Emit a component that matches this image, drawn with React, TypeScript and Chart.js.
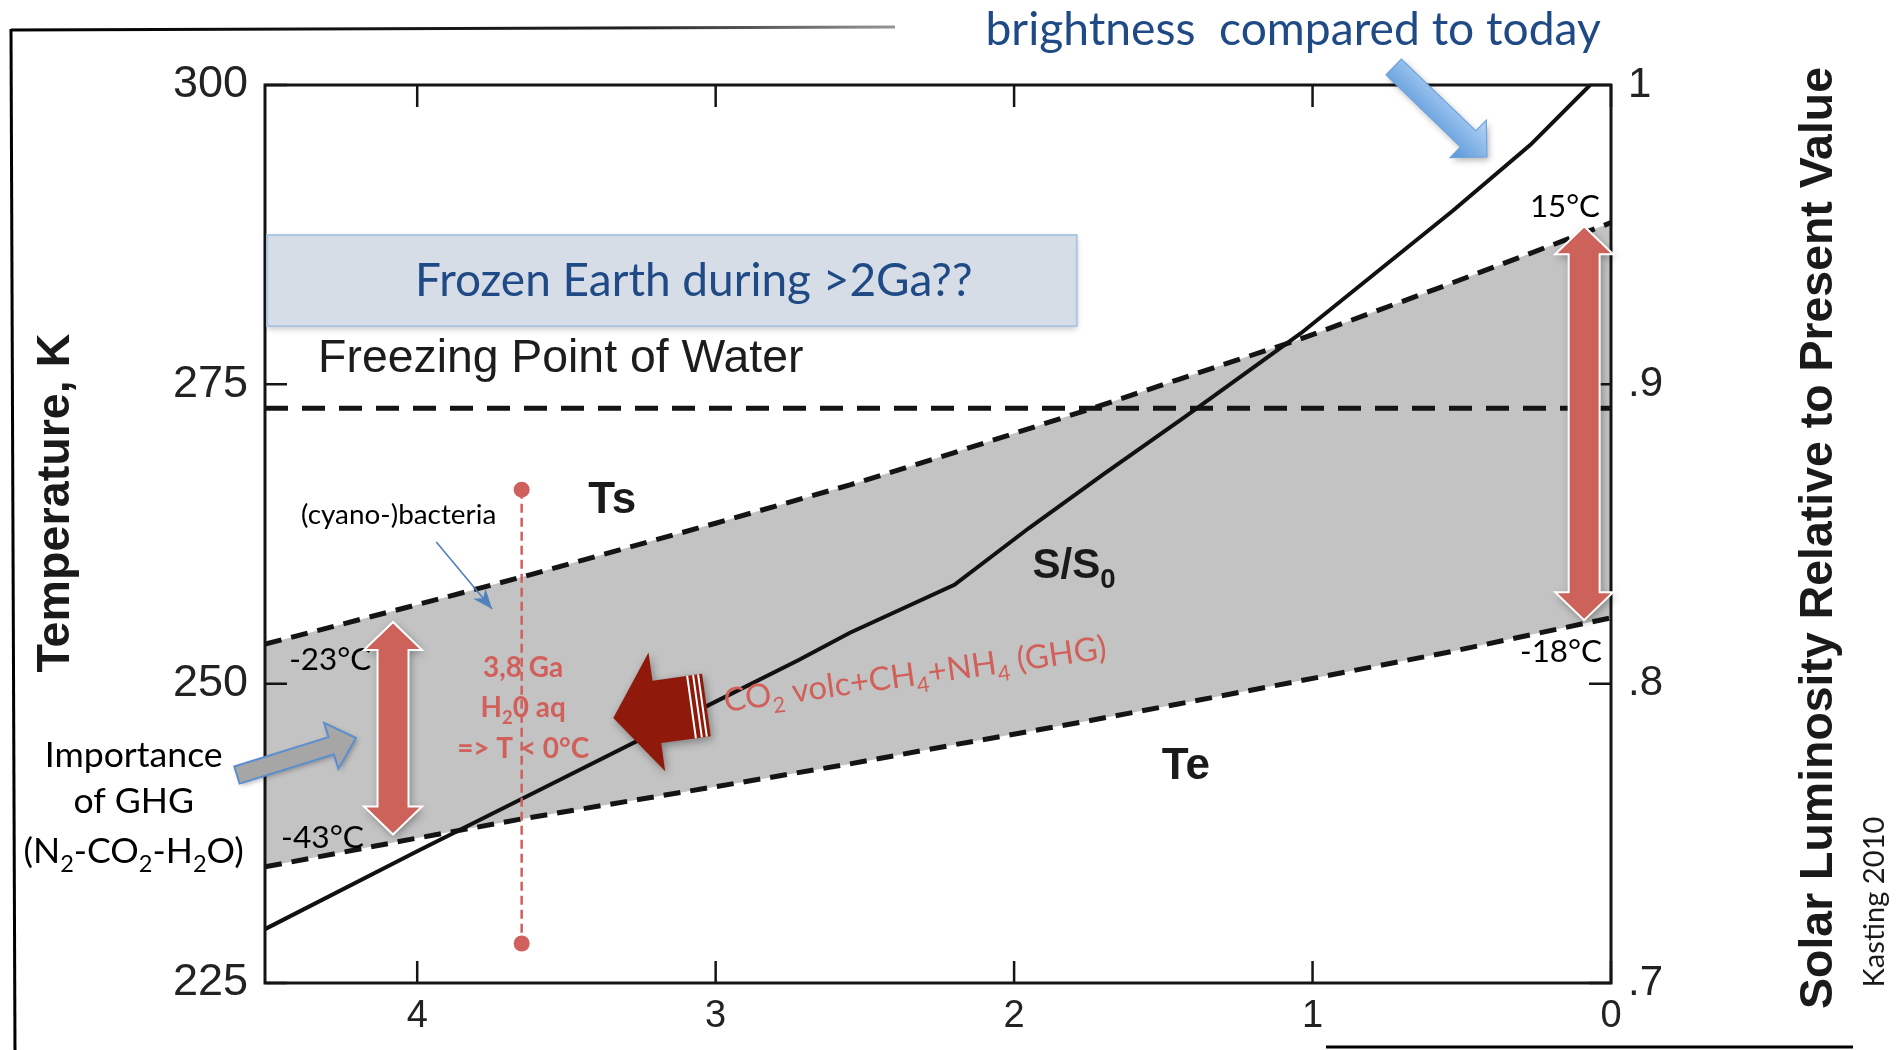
import React, { useEffect, useRef } from 'react';
import { Chart, registerables } from 'chart.js';

Chart.register(...registerables);

// ---------------- data ----------------
const xTickValues = [0, 1, 2, 3, 4];
const yTickValues = [225, 250, 275, 300];
const y2TickValues = [0.7, 0.8, 0.9, 1.0];

// Age before present (Ga) for the temperature band
const bandAgeGa = [4.51, 4.0, 3.65, 3.0, 2.55, 2.2, 1.75, 1.45, 1.05, 0.55, 0.0];
// Surface temperature Ts (K), upper dashed curve
const surfaceTempK = [253.3, 256.6, 258.9, 263.4, 266.6, 269.3, 272.9, 275.4, 278.7, 283.3, 288.5];
// Effective temperature Te (K), lower dashed curve
const effectiveTempK = [234.7, 237.1, 238.7, 241.4, 243.3, 244.9, 246.9, 248.3, 250.2, 252.6, 255.5];

// Solar luminosity S/S0 (right axis)
const solarAgeGa = [4.51, 4.0, 3.5, 3.0, 2.72, 2.55, 2.2, 1.95, 1.7, 1.43, 1.04, 0.53, 0.27, 0.07];
const solarRatio = [0.718, 0.744, 0.769, 0.794, 0.808, 0.817, 0.833, 0.852, 0.87, 0.889, 0.917, 0.958, 0.98, 1.0];

// Freezing point of water
const freezingAgeGa = [4.51, 0.0];
const freezingTempK = [273, 273];

const ageMin = 0;
const ageMax = 4.51;
const tempMin = 225;
const tempMax = 300;
const lumMin = 0.7;
const lumMax = 1.0;

// ---------------- styles ----------------
const W = 1901;
const H = 1050;
const ARIAL = '"Liberation Sans", Arial, Helvetica, sans-serif';
const GILL = 'Lato, "Noto Sans", sans-serif';
const BLUE_TEXT = '#1f4a85';
const RED_TEXT = '#d2605a';
const RED_ARROW = '#cd625b';
const DARK_RED = '#8f1a0b';
const TICK = 22;

type Seg = [string, number];

function segFont(size: number, family: string, weight: string, kind: number) {
  const s = kind ? size * 0.66 : size;
  return `${weight} ${s}px ${family}`;
}
function richWidth(ctx: CanvasRenderingContext2D, segs: Seg[], size: number, family: string, weight: string) {
  let w = 0;
  for (const [t, k] of segs) {
    ctx.font = segFont(size, family, weight, k);
    w += ctx.measureText(t).width;
  }
  return w;
}
function drawRich(
  ctx: CanvasRenderingContext2D,
  segs: Seg[],
  x: number,
  y: number,
  size: number,
  family: string,
  weight: string,
  color: string,
  align: 'left' | 'center' | 'right'
) {
  const w = richWidth(ctx, segs, size, family, weight);
  let cx = align === 'left' ? x : align === 'center' ? x - w / 2 : x - w;
  ctx.fillStyle = color;
  ctx.textBaseline = 'alphabetic';
  ctx.textAlign = 'left';
  for (const [t, k] of segs) {
    ctx.font = segFont(size, family, weight, k);
    ctx.fillText(t, cx, y + (k ? size * 0.24 : 0));
    cx += ctx.measureText(t).width;
  }
}
function fitSize(ctx: CanvasRenderingContext2D, segs: Seg[], family: string, weight: string, target: number) {
  return (100 * target) / richWidth(ctx, segs, 100, family, weight);
}

function blockArrowPath(
  ctx: CanvasRenderingContext2D,
  x1: number,
  y1: number,
  x2: number,
  y2: number,
  shaftW: number,
  headW: number,
  headL: number
) {
  const dx = x2 - x1;
  const dy = y2 - y1;
  const len = Math.hypot(dx, dy);
  const ux = dx / len;
  const uy = dy / len;
  const nx = -uy;
  const ny = ux;
  const bx = x2 - ux * headL;
  const by = y2 - uy * headL;
  ctx.beginPath();
  ctx.moveTo(x1 + (nx * shaftW) / 2, y1 + (ny * shaftW) / 2);
  ctx.lineTo(bx + (nx * shaftW) / 2, by + (ny * shaftW) / 2);
  ctx.lineTo(bx + (nx * headW) / 2, by + (ny * headW) / 2);
  ctx.lineTo(x2, y2);
  ctx.lineTo(bx - (nx * headW) / 2, by - (ny * headW) / 2);
  ctx.lineTo(bx - (nx * shaftW) / 2, by - (ny * shaftW) / 2);
  ctx.lineTo(x1 - (nx * shaftW) / 2, y1 - (ny * shaftW) / 2);
  ctx.closePath();
}

function doubleArrowPath(
  ctx: CanvasRenderingContext2D,
  x: number,
  yTop: number,
  yBot: number,
  shaftW: number,
  headW: number,
  headL: number
) {
  ctx.beginPath();
  ctx.moveTo(x, yTop);
  ctx.lineTo(x + headW / 2, yTop + headL);
  ctx.lineTo(x + shaftW / 2, yTop + headL);
  ctx.lineTo(x + shaftW / 2, yBot - headL);
  ctx.lineTo(x + headW / 2, yBot - headL);
  ctx.lineTo(x, yBot);
  ctx.lineTo(x - headW / 2, yBot - headL);
  ctx.lineTo(x - shaftW / 2, yBot - headL);
  ctx.lineTo(x - shaftW / 2, yTop + headL);
  ctx.lineTo(x - headW / 2, yTop + headL);
  ctx.closePath();
}

// ---------------- annotation placement (data units: Ga, K) ----------------
type FitLabel = { segs: Seg[]; from: number; to: number; base: number; family: string; weight: string; color: string };
const fitLabels: FitLabel[] = [
  { segs: [['brightness  compared to today', 0]], from: 2.096, to: 0.0335, base: 303.34, family: GILL, weight: '400', color: BLUE_TEXT },
  { segs: [['Freezing Point of Water', 0]], from: 4.332, to: 2.706, base: 276.03, family: ARIAL, weight: '400', color: '#1c1c1c' },
  { segs: [['15°C', 0]], from: 0.2716, to: 0.0369, base: 288.98, family: GILL, weight: '400', color: '#000' },
  { segs: [['-18°C', 0]], from: 0.305, to: 0.03, base: 251.81, family: GILL, weight: '400', color: '#000' },
  { segs: [['-23°C', 0]], from: 4.429, to: 4.154, base: 251.14, family: GILL, weight: '400', color: '#000' },
  { segs: [['-43°C', 0]], from: 4.456, to: 4.178, base: 236.28, family: GILL, weight: '400', color: '#000' },
  { segs: [['(cyano-)bacteria', 0]], from: 4.389, to: 3.735, base: 263.34, family: GILL, weight: '400', color: '#000' },
];

function drawAnnotations(chart: Chart) {
  const ctx = chart.ctx;
  const xs = chart.scales.x;
  const ys = chart.scales.y;
  const y2s = chart.scales.y2;
  const X = (v: number) => xs.getPixelForValue(v);
  const Y = (v: number) => ys.getPixelForValue(v);
  const area = chart.chartArea;
  ctx.save();

  // plot frame
  ctx.strokeStyle = '#151515';
  ctx.lineWidth = 3;
  ctx.setLineDash([]);
  ctx.strokeRect(area.left, area.top, area.right - area.left, area.bottom - area.top);

  // inward tick marks
  ctx.lineWidth = 2.5;
  ctx.beginPath();
  for (const t of xs.ticks) {
    const px = X(t.value);
    ctx.moveTo(px, area.bottom);
    ctx.lineTo(px, area.bottom - TICK);
    ctx.moveTo(px, area.top);
    ctx.lineTo(px, area.top + TICK);
  }
  for (const t of ys.ticks) {
    const py = Y(t.value);
    ctx.moveTo(area.left, py);
    ctx.lineTo(area.left + TICK, py);
  }
  for (const t of y2s.ticks) {
    const py = y2s.getPixelForValue(t.value);
    ctx.moveTo(area.right, py);
    ctx.lineTo(area.right - TICK, py);
  }
  ctx.stroke();

  // curve labels from the original figure
  drawRich(ctx, [['Ts', 0]], X(3.427), Y(264.26), 44, ARIAL, 'bold', '#1a1a1a', 'left');
  drawRich(ctx, [['Te', 0]], X(1.505), Y(242.04), 44, ARIAL, 'bold', '#1a1a1a', 'left');
  drawRich(ctx, [['S/S', 0], ['0', 1]], X(1.938), Y(258.83), 42, ARIAL, 'bold', '#1a1a1a', 'left');

  // Frozen Earth box
  {
    const x0 = X(4.503);
    const x1 = X(1.79);
    const y0 = Y(287.47);
    const y1 = Y(279.87);
    ctx.save();
    ctx.shadowColor = 'rgba(0,0,0,0.22)';
    ctx.shadowBlur = 6;
    ctx.shadowOffsetY = 3;
    ctx.fillStyle = '#d6dde7';
    ctx.fillRect(x0, y0, x1 - x0, y1 - y0);
    ctx.restore();
    ctx.strokeStyle = '#adc6e4';
    ctx.lineWidth = 2;
    ctx.strokeRect(x0, y0, x1 - x0, y1 - y0);
    const segs: Seg[] = [['Frozen Earth during >2Ga??', 0]];
    const size = fitSize(ctx, segs, GILL, '400', X(2.139) - X(4.007));
    drawRich(ctx, segs, X(4.007), Y(282.38), size, GILL, '400', BLUE_TEXT, 'left');
  }

  // fitted labels
  for (const l of fitLabels) {
    const a = X(l.from);
    const b = X(l.to);
    const size = fitSize(ctx, l.segs, l.family, l.weight, Math.abs(b - a));
    drawRich(ctx, l.segs, Math.min(a, b), Y(l.base), size, l.family, l.weight, l.color, 'left');
  }

  // blue arrow "brightness"
  {
    const x1 = X(0.728);
    const y1 = Y(301.51);
    const x2 = X(0.4158);
    const y2 = Y(293.99);
    ctx.save();
    ctx.shadowColor = 'rgba(0,0,0,0.3)';
    ctx.shadowBlur = 6;
    ctx.shadowOffsetX = 2;
    ctx.shadowOffsetY = 3;
    const g = ctx.createLinearGradient(x1 - 15, y1 + 15, x1 + 15, y1 - 15);
    g.addColorStop(0, '#5d99da');
    g.addColorStop(1, '#a9cdf3');
    ctx.fillStyle = g;
    blockArrowPath(ctx, x1, y1, x2, y2, 22, 52, 26);
    ctx.fill();
    ctx.restore();
    ctx.strokeStyle = '#6ea3dc';
    ctx.lineWidth = 1.2;
    blockArrowPath(ctx, x1, y1, x2, y2, 22, 52, 26);
    ctx.stroke();
  }

  // red dashed vertical (3,8 Ga)
  {
    const px = X(3.65);
    const yt = Y(266.2);
    const yb = Y(228.3);
    ctx.strokeStyle = '#d0605d';
    ctx.lineWidth = 2.5;
    ctx.setLineDash([9, 5]);
    ctx.beginPath();
    ctx.moveTo(px, yt);
    ctx.lineTo(px, yb);
    ctx.stroke();
    ctx.setLineDash([]);
    ctx.fillStyle = '#d0605d';
    for (const py of [yt, yb]) {
      ctx.beginPath();
      ctx.arc(px, py, 8, 0, Math.PI * 2);
      ctx.fill();
    }
    const l3: Seg[] = [['=> T < 0°C', 0]];
    const size = fitSize(ctx, l3, GILL, 'bold', 132);
    const cx = X(3.645);
    drawRich(ctx, [['3,8 Ga', 0]], cx, Y(250.56), size, GILL, 'bold', RED_TEXT, 'center');
    drawRich(ctx, [['H', 0], ['2', 1], ['0 aq', 0]], cx, Y(247.22), size, GILL, 'bold', RED_TEXT, 'center');
    drawRich(ctx, l3, cx, Y(243.79), size, GILL, 'bold', RED_TEXT, 'center');
  }

  // cyano-bacteria pointer
  {
    const x1 = X(3.936);
    const y1 = Y(261.83);
    const x2 = X(3.749);
    const y2 = Y(256.24);
    ctx.strokeStyle = '#4f81bd';
    ctx.fillStyle = '#4f81bd';
    ctx.lineWidth = 1.6;
    ctx.beginPath();
    ctx.moveTo(x1, y1);
    ctx.lineTo(x2, y2);
    ctx.stroke();
    const ang = Math.atan2(y2 - y1, x2 - x1);
    const hl = 20;
    const hw = 8;
    ctx.beginPath();
    ctx.moveTo(x2, y2);
    ctx.lineTo(x2 - hl * Math.cos(ang) + hw * Math.sin(ang), y2 - hl * Math.sin(ang) - hw * Math.cos(ang));
    ctx.lineTo(x2 - hl * 0.7 * Math.cos(ang), y2 - hl * 0.7 * Math.sin(ang));
    ctx.lineTo(x2 - hl * Math.cos(ang) - hw * Math.sin(ang), y2 - hl * Math.sin(ang) + hw * Math.cos(ang));
    ctx.closePath();
    ctx.fill();
  }

  // red double arrows
  const redDouble = (age: number, top: number, bot: number) => {
    const px = X(age);
    const yt = Y(top);
    const yb = Y(bot);
    ctx.save();
    ctx.shadowColor = 'rgba(0,0,0,0.35)';
    ctx.shadowBlur = 8;
    ctx.shadowOffsetX = 2;
    ctx.shadowOffsetY = 3;
    ctx.fillStyle = RED_ARROW;
    doubleArrowPath(ctx, px, yt, yb, 31, 58, 28);
    ctx.fill();
    ctx.restore();
    ctx.strokeStyle = '#ffffff';
    ctx.lineWidth = 2;
    doubleArrowPath(ctx, px, yt, yb, 31, 58, 28);
    ctx.stroke();
  };
  redDouble(4.081, 255.15, 237.4);
  redDouble(0.09, 288.2, 255.3);

  // gray arrow + Importance of GHG
  {
    const x1 = X(4.604);
    const y1 = Y(242.37);
    const x2 = X(4.205);
    const y2 = Y(245.46);
    ctx.save();
    ctx.shadowColor = 'rgba(0,0,0,0.3)';
    ctx.shadowBlur = 5;
    ctx.shadowOffsetX = 2;
    ctx.shadowOffsetY = 2;
    ctx.fillStyle = '#a6a6a6';
    blockArrowPath(ctx, x1, y1, x2, y2, 18, 48, 26);
    ctx.fill();
    ctx.restore();
    ctx.strokeStyle = '#5b8fd0';
    ctx.lineWidth = 2;
    blockArrowPath(ctx, x1, y1, x2, y2, 18, 48, 26);
    ctx.stroke();

    const first: Seg[] = [['Importance', 0]];
    const size = fitSize(ctx, first, GILL, '400', 178);
    const cx = X(4.95);
    drawRich(ctx, first, cx, Y(243.04), size, GILL, '400', '#000', 'center');
    drawRich(ctx, [['of GHG', 0]], cx, Y(239.2), size, GILL, '400', '#000', 'center');
    drawRich(
      ctx,
      [['(N', 0], ['2', 1], ['-CO', 0], ['2', 1], ['-H', 0], ['2', 1], ['O)', 0]],
      cx,
      Y(235.02),
      size,
      GILL,
      '400',
      '#000',
      'center'
    );
  }

  // dark red arrow + GHG text
  {
    const x1 = X(3.031);
    const y1 = Y(248.22);
    const x2 = X(3.343);
    const y2 = Y(247.13);
    ctx.save();
    ctx.shadowColor = 'rgba(0,0,0,0.35)';
    ctx.shadowBlur = 8;
    ctx.shadowOffsetX = 2;
    ctx.shadowOffsetY = 3;
    ctx.fillStyle = DARK_RED;
    blockArrowPath(ctx, x1, y1, x2, y2, 63, 120, 44);
    ctx.fill();
    ctx.restore();
    // striped tail
    const dx = x2 - x1;
    const dy = y2 - y1;
    const len = Math.hypot(dx, dy);
    const ux = dx / len;
    const uy = dy / len;
    const nx = -uy;
    const ny = ux;
    ctx.strokeStyle = '#ffffff';
    ctx.lineWidth = 2;
    for (const off of [4, 9, 15]) {
      const cx = x1 + ux * off;
      const cy = y1 + uy * off;
      ctx.beginPath();
      ctx.moveTo(cx + nx * 31.5, cy + ny * 31.5);
      ctx.lineTo(cx - nx * 31.5, cy - ny * 31.5);
      ctx.stroke();
    }

    const segs: Seg[] = [
      ['CO', 0],
      ['2', 1],
      [' volc+CH', 0],
      ['4', 1],
      ['+NH', 0],
      ['4', 1],
      [' (GHG)', 0],
    ];
    const size = fitSize(ctx, segs, GILL, '400', 386);
    ctx.save();
    ctx.translate(X(2.967), Y(247.63));
    ctx.rotate((-8 * Math.PI) / 180);
    drawRich(ctx, segs, 0, 0, size, GILL, '400', RED_TEXT, 'left');
    ctx.restore();
  }

  // axis titles (rotated, reading upward)
  const vtitle = (text: string, age: number, temp: number, length: number, family: string, weight: string) => {
    const segs: Seg[] = [[text, 0]];
    const size = fitSize(ctx, segs, family, weight, length);
    ctx.save();
    ctx.translate(X(age), Y(temp));
    ctx.rotate(-Math.PI / 2);
    drawRich(ctx, segs, 0, 0, size, family, weight, '#1a1a1a', 'center');
    ctx.restore();
  };
  vtitle('Temperature, K', 5.167, 265.09, 339, ARIAL, 'bold');
  vtitle('Solar Luminosity Relative to Present Value', -0.7414, 262.17, 942, ARIAL, 'bold');
  vtitle('Kasting 2010', -0.9153, 231.77, 171, GILL, '400');

  // slide frame lines
  const g = ctx.createLinearGradient(12, 0, 900, 0);
  g.addColorStop(0, '#000');
  g.addColorStop(0.7, '#222');
  g.addColorStop(1, '#999');
  ctx.strokeStyle = g;
  ctx.lineWidth = 3;
  ctx.beginPath();
  ctx.moveTo(11, 30);
  ctx.lineTo(895, 27);
  ctx.stroke();
  ctx.strokeStyle = '#000';
  ctx.beginPath();
  ctx.moveTo(11, 29);
  ctx.lineTo(15, chart.height);
  ctx.stroke();
  ctx.beginPath();
  ctx.moveTo(1326, 1047);
  ctx.lineTo(1853, 1047);
  ctx.stroke();

  ctx.restore();
}

const annotationPlugin = {
  id: 'slideAnnotations',
  beforeDraw(chart: Chart) {
    const ctx = chart.ctx;
    ctx.save();
    ctx.fillStyle = '#ffffff';
    ctx.fillRect(0, 0, chart.width, chart.height);
    ctx.restore();
  },
  afterDraw(chart: Chart) {
    drawAnnotations(chart);
  },
};

export default function App() {
  const ref = useRef<HTMLCanvasElement>(null);
  useEffect(() => {
    document.body.style.margin = '0';
    const canvas = ref.current;
    if (!canvas) return;
    const dashed = {
      borderColor: '#141414',
      borderWidth: 5,
      pointRadius: 0,
      tension: 0,
    };
    const chart = new Chart(canvas, {
      type: 'line',
      data: {
        datasets: [
          {
            ...dashed,
            label: 'Ts',
            data: bandAgeGa.map((x, i) => ({ x, y: surfaceTempK[i] })),
            yAxisID: 'y',
            borderDash: [17, 10],
            fill: '+1',
            backgroundColor: '#c3c3c3',
            order: 10,
          },
          {
            ...dashed,
            label: 'Te',
            data: bandAgeGa.map((x, i) => ({ x, y: effectiveTempK[i] })),
            yAxisID: 'y',
            borderDash: [17, 10],
            fill: false,
            order: 5,
          },
          {
            ...dashed,
            label: 'Freezing Point of Water',
            data: freezingAgeGa.map((x, i) => ({ x, y: freezingTempK[i] })),
            yAxisID: 'y',
            borderDash: [23, 14],
            fill: false,
            order: 3,
          },
          {
            label: 'S/S0',
            data: solarAgeGa.map((x, i) => ({ x, y: solarRatio[i] })),
            yAxisID: 'y2',
            borderColor: '#111111',
            borderWidth: 4,
            pointRadius: 0,
            tension: 0,
            fill: false,
            order: 1,
          },
        ],
      },
      options: {
        responsive: false,
        animation: false,
        events: [],
        layout: { padding: { top: 85, left: 0, right: 0, bottom: 0 } },
        plugins: { legend: { display: false }, tooltip: { enabled: false } },
        scales: {
          x: {
            type: 'linear',
            reverse: true,
            min: ageMin,
            max: ageMax,
            afterBuildTicks: (s: any) => {
              s.ticks = xTickValues.map((v) => ({ value: v }));
            },
            afterFit: (s: any) => {
              s.height = 67;
            },
            grid: { display: false, drawTicks: false },
            border: { display: false },
            ticks: {
              padding: 11,
              color: '#222',
              font: { family: ARIAL, size: 38 },
              callback: (v: any) => String(v),
            },
          },
          y: {
            type: 'linear',
            position: 'left',
            min: tempMin,
            max: tempMax,
            afterBuildTicks: (s: any) => {
              s.ticks = yTickValues.map((v) => ({ value: v }));
            },
            afterFit: (s: any) => {
              s.width = 265;
            },
            grid: { display: false, drawTicks: false },
            border: { display: false },
            ticks: {
              padding: 17,
              color: '#222',
              font: { family: ARIAL, size: 45 },
              callback: (v: any) => String(v),
            },
          },
          y2: {
            type: 'linear',
            position: 'right',
            min: lumMin,
            max: lumMax,
            afterBuildTicks: (s: any) => {
              s.ticks = y2TickValues.map((v) => ({ value: v }));
            },
            afterFit: (s: any) => {
              s.width = 290;
            },
            grid: { display: false, drawTicks: false },
            border: { display: false },
            ticks: {
              padding: 17,
              color: '#222',
              font: { family: ARIAL, size: 42 },
              callback: (v: any) => (Number(v) >= 0.999 ? '1' : '.' + Math.round(Number(v) * 10)),
            },
          },
        },
      },
      plugins: [annotationPlugin],
    } as any);
    return () => chart.destroy();
  }, []);
  return (
    <div style={{ position: 'absolute', left: 0, top: 0, width: W, height: H, overflow: 'hidden', background: '#fff' }}>
      <canvas ref={ref} width={W} height={H} style={{ display: 'block', width: W, height: H }} />
    </div>
  );
}
